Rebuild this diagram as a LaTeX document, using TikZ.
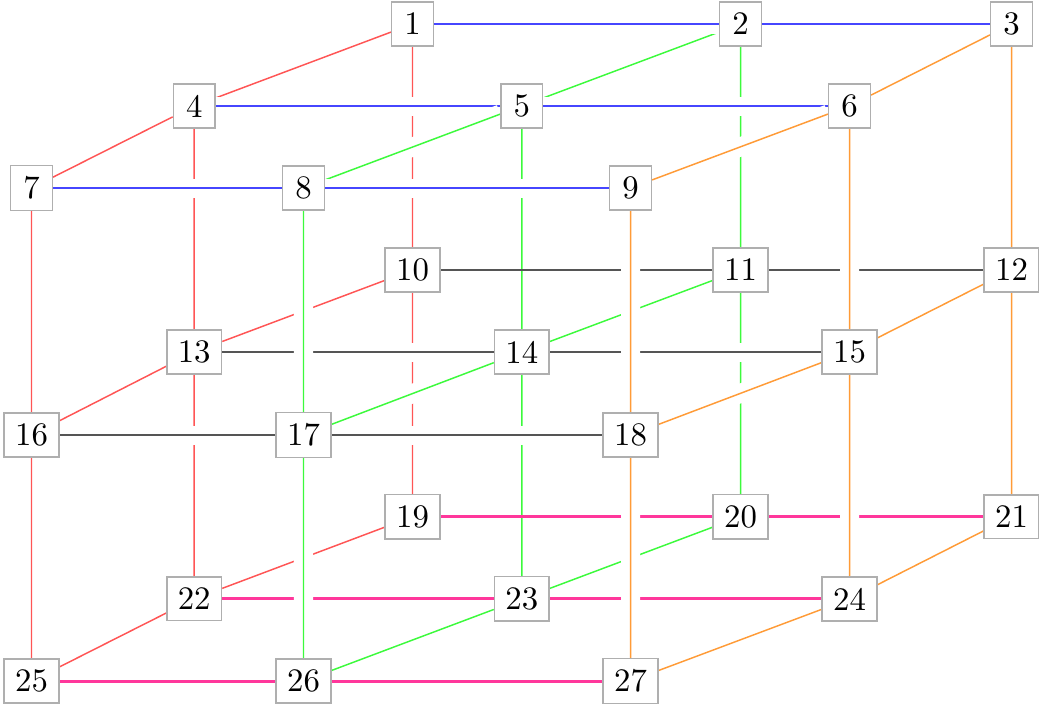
\documentclass[tikz,border=0pt]{standalone}
\definecolor{pinkline}{RGB}{255,55,155}
\definecolor{cred}{RGB}{255,85,85}
\definecolor{cgreen}{RGB}{60,250,60}
\definecolor{cblue}{RGB}{70,70,255}
\definecolor{corange}{RGB}{255,155,55}
\definecolor{cblack}{RGB}{85,85,85}
\definecolor{cbox}{RGB}{175,175,175}
\pgfdeclarelayer{fg}
\pgfsetlayers{main,fg}
\begin{document}
\begin{tikzpicture}[x=0.305pt,y=-0.305pt,
  nd/.style={draw=cbox, line width=0.45pt, fill=white, inner sep=3.33pt,
             minimum width=12.7pt, minimum height=12.8pt},
  halo/.style={preaction={draw=white, line width=5.8pt}},
  lred/.style={line width=0.45pt, draw=cred},
  lgreen/.style={line width=0.45pt, draw=cgreen},
  lblue/.style={line width=0.5pt, draw=cblue},
  lorange/.style={line width=0.45pt, draw=corange},
  lblack/.style={line width=0.55pt, draw=cblack},
  lpink/.style={line width=0.9pt, draw=pinkline}]
\useasboundingbox (0,0) rectangle (1039,705);
\begin{pgfonlayer}{fg}
\node[nd] (n1)  at (412.5,24)  {1};
\node[nd] (n2)  at (740.5,24)  {2};
\node[nd] (n3)  at (1011.5,24) {3};
\node[nd] (n4)  at (194.2,106) {4};
\node[nd] (n5)  at (521.8,106) {5};
\node[nd] (n6)  at (849.5,106) {6};
\node[nd] (n7)  at (31.5,188)  {7};
\node[nd] (n8)  at (303.5,188) {8};
\node[nd] (n9)  at (630.5,188) {9};
\node[nd] (n10) at (412.5,270) {10};
\node[nd] (n11) at (740.5,270) {11};
\node[nd] (n12) at (1011.5,270) {12};
\node[nd] (n13) at (194.2,352) {13};
\node[nd] (n14) at (521.8,352) {14};
\node[nd] (n15) at (849.5,352) {15};
\node[nd] (n16) at (31.5,435)  {16};
\node[nd] (n17) at (303.5,435) {17};
\node[nd] (n18) at (630.5,435) {18};
\node[nd] (n19) at (412.5,516.7) {19};
\node[nd] (n20) at (740.5,516.7) {20};
\node[nd] (n21) at (1011.5,516.7) {21};
\node[nd] (n22) at (194.2,598.9) {22};
\node[nd] (n23) at (521.8,598.9) {23};
\node[nd] (n24) at (849.5,598.9) {24};
\node[nd] (n25) at (31.5,681)  {25};
\node[nd] (n26) at (303.5,681) {26};
\node[nd] (n27) at (630.5,681) {27};
\end{pgfonlayer}
% lines that are behind (no white halo)
\draw[lred] (n1)--(n4) (n4)--(n7) (n1)--(n10) (n10)--(n19) (n4)--(n13) (n13)--(n22)
          (n7)--(n16) (n16)--(n25) (n10)--(n13) (n13)--(n16) (n19)--(n22) (n22)--(n25);
\draw[lgreen] (n2)--(n5) (n2)--(n11) (n11)--(n20) (n5)--(n14) (n14)--(n23)
          (n11)--(n14) (n20)--(n23) (n23)--(n26);
\draw[lorange] (n3)--(n6) (n3)--(n12) (n12)--(n21) (n12)--(n15) (n21)--(n24) (n24)--(n27);
\draw[lblack] (n10)--(n11) (n11)--(n12);
\draw[lpink] (n19)--(n20) (n20)--(n21) (n22)--(n23) (n23)--(n24) (n25)--(n26) (n26)--(n27);
% lines in front (with white halo)
\draw[lblack,halo] (n13)--(n14) (n14)--(n15) (n16)--(n17) (n17)--(n18);
\draw[lblue,halo] (n1)--(n2) (n2)--(n3) (n4)--(n5) (n5)--(n6) (n7)--(n8);
\draw[lgreen,halo] (n5)--(n8) (n8)--(n17) (n17)--(n26) (n14)--(n17);
\draw[lblue,halo] (n8)--(n9);
\draw[lorange,halo] (n6)--(n9) (n6)--(n15) (n15)--(n24) (n9)--(n18) (n18)--(n27) (n15)--(n18);
\end{tikzpicture}
\end{document}
